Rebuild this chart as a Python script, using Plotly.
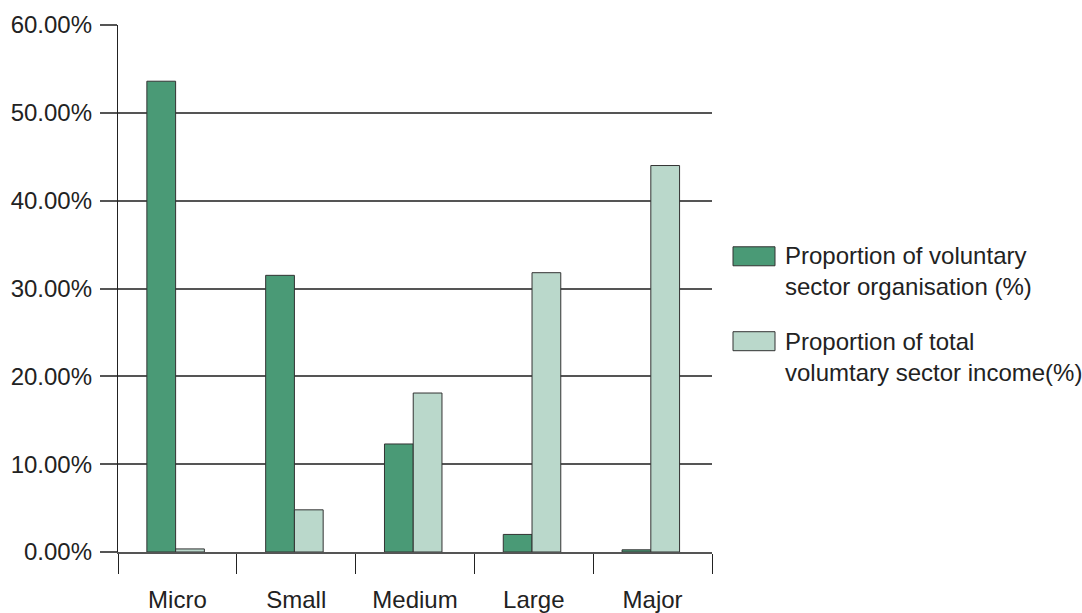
import plotly.graph_objects as go

categories = ["Micro", "Small", "Medium", "Large", "Major"]
org_share = [53.6, 31.5, 12.3, 2.0, 0.25]
income_share = [0.35, 4.8, 18.1, 31.8, 44.0]
series_names = ["Proportion of voluntary<br>sector organisation (%)",
                "Proportion of total<br>volumtary sector income(%)"]
y_ticks = [0, 10, 20, 30, 40, 50, 60]
y_ticktext = ["%.2f%%" % v for v in y_ticks]

dark = "rgb(74,154,118)"
light = "rgb(186,216,203)"
FONT = "Liberation Sans, Arial, sans-serif"
FS = 24
BW = 0.242

fig = go.Figure()
fig.add_trace(go.Bar(x=categories, y=org_share, name=series_names[0],
                     width=BW, offset=-0.257,
                     marker=dict(color=dark, line=dict(color="#333", width=1)),
                     showlegend=False))
fig.add_trace(go.Bar(x=categories, y=income_share, name=series_names[1],
                     width=BW, offset=-0.257 + BW,
                     marker=dict(color=light, line=dict(color="#333", width=1)),
                     showlegend=False))

L, R, T, B = 118, 712, 25, 552.5
W, H = 1082, 613
pw, ph = R - L, B - T

def px(x):
    return (x - L) / pw

def py(y):
    return (B - y) / ph

# manual legend
for (y0, y1, col, name, yc) in [(247, 266, dark, series_names[0], 271),
                                (332, 351, light, series_names[1], 357)]:
    fig.add_shape(type="rect", xref="paper", yref="paper",
                  x0=px(733), x1=px(775), y0=py(y1), y1=py(y0),
                  fillcolor=col, line=dict(color="#333", width=1))
    fig.add_annotation(xref="paper", yref="paper", x=px(783), y=py(yc),
                       xanchor="left", yanchor="middle", align="left",
                       text=name, showarrow=False,
                       font=dict(family=FONT, size=FS, color="#222"))

fig.update_layout(
    width=W, height=H,
    margin=dict(l=L, r=W - R, t=T, b=H - B, autoexpand=False),
    paper_bgcolor="white", plot_bgcolor="white",
    barmode="overlay",
    font=dict(family=FONT, size=FS, color="#222"),
    showlegend=False,
)
fig.update_xaxes(
    type="category", tickson="boundaries", ticks="outside", ticklen=20,
    tickcolor="#222", tickwidth=1.3, showline=True, linecolor="#555", linewidth=1.5,
    showgrid=False, ticklabelstandoff=25, automargin=False,
    tickfont=dict(family=FONT, size=FS, color="#222"),
)
fig.update_yaxes(
    range=[0, 60], tickmode="array", tickvals=y_ticks, ticktext=y_ticktext,
    ticks="outside", ticklen=17, tickcolor="#555", tickwidth=1.5,
    showgrid=True, gridcolor="#555", gridwidth=1.5, zeroline=False,
    showline=True, linecolor="#222", linewidth=1.3, ticklabelstandoff=3,
    automargin=False,
    tickfont=dict(family=FONT, size=FS, color="#222"),
)

fig.write_html("out.html")
